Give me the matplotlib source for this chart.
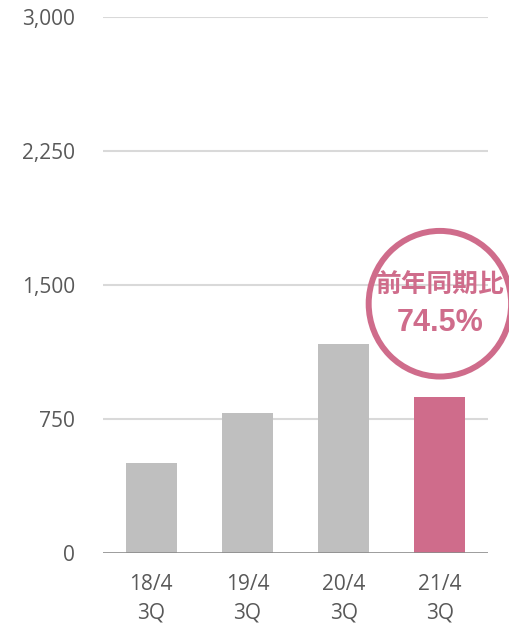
import matplotlib.pyplot as plt
from matplotlib.patches import Ellipse

# data
categories = ['18/4\n3Q', '19/4\n3Q', '20/4\n3Q', '21/4\n3Q']
values = [505, 783, 1170, 872]
bar_colors = ['#BFBFBF', '#BFBFBF', '#BFBFBF', '#CF6C8B']
yticks = [0, 750, 1500, 2250, 3000]
ratio_label = '前年同期比'
ratio_value = '74.5%'

pink = '#CF6C8B'
text_gray = '#595959'

fig = plt.figure(figsize=(5.09, 6.23), dpi=100)
ax = fig.add_axes([0.2024, 0.1124, 0.7564, 0.8604])

x = range(len(categories))
ax.bar(x, values, width=0.53, color=bar_colors, zorder=3)

ax.set_ylim(0, 3000)
ax.set_xlim(-0.5, len(categories) - 0.5)
ax.set_yticks(yticks)
ax.set_yticklabels([f'{v:,}' for v in yticks])
ax.set_xticks(list(x))
ax.set_xticklabels(categories, linespacing=1.45)

for v in yticks[1:]:
    ax.axhline(v, color='#D9D9D9', lw=1.5, zorder=1)
ax.axhline(0, color='#8C8C8C', lw=1.2, zorder=4)

for s in ax.spines.values():
    s.set_visible(False)
ax.tick_params(axis='both', length=0, colors=text_gray, labelsize=15)
ax.tick_params(axis='y', pad=20)
ax.tick_params(axis='x', pad=15)
for lab in ax.get_xticklabels() + ax.get_yticklabels():
    lab.set_family('Open Sans')

# year-on-year circle above the last bar
cx = len(categories) - 1
cy = values[-1] + 523
circ = Ellipse((cx, cy), width=1.48, height=815, fill=False,
               edgecolor=pink, lw=4.3, clip_on=False, zorder=5)
ax.add_patch(circ)
ax.text(cx, cy + 100, ratio_label, ha='center', va='center', color=pink,
        fontsize=18.5, fontweight='bold', family=['Noto Sans CJK JP', 'DejaVu Sans'],
        zorder=6, clip_on=False)
ax.text(cx, cy - 110, ratio_value, ha='center', va='center', color=pink,
        fontsize=22, fontweight='bold', family='Liberation Sans', zorder=6)

fig.savefig('out.png', dpi=100)
